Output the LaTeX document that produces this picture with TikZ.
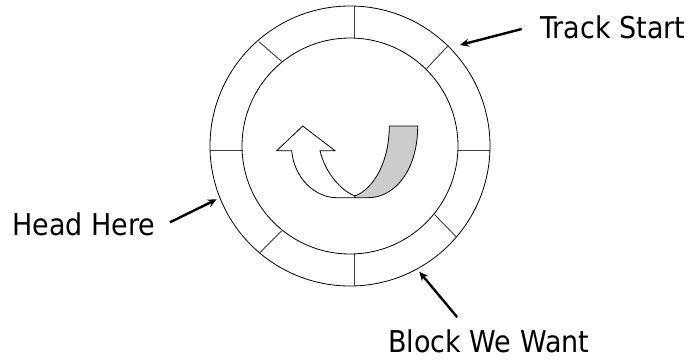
\documentclass[tikz,border=0pt]{standalone}
\usepackage{fontspec}
\setmainfont{DejaVu Sans}[FakeStretch=0.9]
\usetikzlibrary{arrows.meta}
\begin{document}
\begin{tikzpicture}[x=1pt,y=-1pt,
  ring/.style={draw=black,line width=0.8pt},
  tick/.style={draw=black!75,line width=0.9pt},
  ptr/.style={draw=black,line width=2.4pt,-{Stealth[length=9pt,width=8pt]}},
  lbl/.style={inner sep=0pt,anchor=base west,font=\fontsize{30}{33}\selectfont}]
\useasboundingbox (0,0) rectangle (695,359);
\coordinate (c) at (350,146);
\draw[ring] (c) circle[radius=140];
\draw[ring] (c) circle[radius=108];
% ticks
\draw[tick] (354,6.1) -- (354,38.4);
\draw[tick] (354,253.8) -- (354,285.8);
\draw[tick] (210.1,150.7) -- (242.1,150.7);
\draw[tick] (457.9,150.7) -- (489.9,150.7);
\draw[tick] (259.3,42) -- (281.7,61.5);
\draw[tick] (448.3,45.5) -- (426.7,68.5);
\draw[tick] (281.7,230.7) -- (259.3,253.3);
\draw[tick] (434.5,214.5) -- (456.7,237.3);
% U-turn arrow
\filldraw[fill=white,draw=black,line width=0.8pt,line join=miter]
  (302.7,126) -- (335,150.7) -- (320,150.7)
  .. controls (325,172) and (340,190) .. (355,196)
  -- (355,197.7) -- (336.7,197.7)
  .. controls (315,197.7) and (294,178) .. (291.7,150.7)
  -- (276.7,150.7) -- cycle;
\filldraw[fill=black!20,draw=black,line width=0.8pt]
  (355,196) .. controls (375,188) and (389.3,160) .. (389.3,126)
  -- (417.7,126)
  .. controls (417.7,170) and (395,197.7) .. (368,197.7)
  -- (355,197.7) -- cycle;
% labels
\node[lbl] (ts) at (540,38) {Track Start};
\node[lbl] (hh) at (12,235) {Head Here};
\node[lbl] (bw) at (388,352) {Block We Want};
\coordinate (tsA) at (521.7,29);
\coordinate (tsB) at (460,45);
\coordinate (hhA) at (170,222.3);
\coordinate (hhB) at (216.7,199.3);
\coordinate (bwA) at (457.3,317.3);
\coordinate (bwB) at (419.3,271.7);
\draw[ptr] (tsA) -- (tsB);
\draw[ptr] (hhA) -- (hhB);
\draw[ptr] (bwA) -- (bwB);
\end{tikzpicture}
\end{document}
